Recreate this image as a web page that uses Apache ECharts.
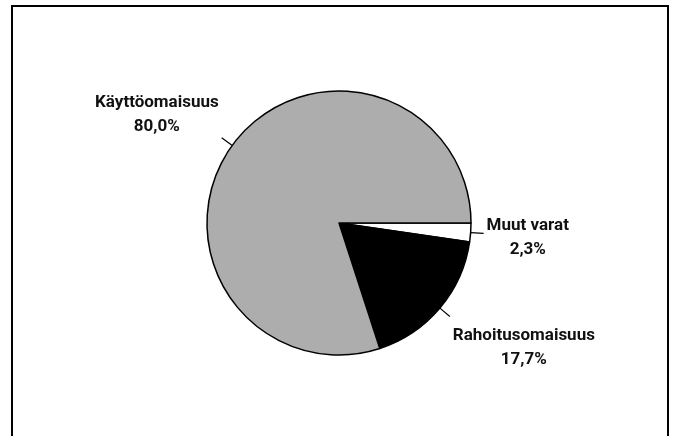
<!DOCTYPE html>
<html>
<head>
<meta charset="utf-8">
<script src="https://cdn.jsdelivr.net/npm/echarts@6/dist/echarts.min.js"></script>
<style>
  html, body { margin: 0; padding: 0; background: #fff; }
  #chart { width: 673px; height: 436px; }
</style>
</head>
<body>
<div id="chart"></div>
<script>
// osuudet, järjestys myötäpäivään klo 3:sta alkaen
const names = ['Muut varat', 'Rahoitusomaisuus', 'Käyttöomaisuus']
const shares = [2.3, 17.7, 80.0]
const colors = ['#ffffff', '#000000', '#adadad']

const chart = echarts.init(document.getElementById('chart'))

const option = {
  animation: false,
  graphic: [
    {
      // kehys (alareuna jää kuvan ulkopuolelle)
      type: 'rect',
      shape: { x: 12, y: 6, width: 656, height: 460 },
      style: { fill: 'none', stroke: '#000', lineWidth: 2 },
      silent: true
    }
  ],
  series: [
    {
      type: 'pie',
      center: [339, 223],
      radius: 132,
      startAngle: 0,
      clockwise: true,
      avoidLabelOverlap: false,
      data: names.map((n, i) => ({
        name: n,
        value: shares[i],
        itemStyle: { color: colors[i] }
      })),
      itemStyle: { borderColor: '#000', borderWidth: 1.5 },
      label: {
        show: true,
        position: 'outside',
        formatter: (p) => p.name + '\n' + p.value.toFixed(1).replace('.', ',') + '%',
        fontFamily: 'Roboto, sans-serif',
        fontWeight: 'bold',
        fontSize: 17,
        lineHeight: 24,
        color: '#111',
        align: 'center'
      },
      labelLine: {
        show: true,
        length: 13,
        length2: 0,
        lineStyle: { color: '#000', width: 1.2 }
      },
      labelLayout: (p) => {
        const pts = p.labelLinePoints
        const s = pts[0]
        const e = pts[1]
        const dx = e[0] - s[0]
        const dy = e[1] - s[1]
        const len = Math.sqrt(dx * dx + dy * dy)
        const w = p.labelRect.width
        const h = p.labelRect.height
        let x = dx < 0 ? e[0] - 3 - w / 2 : e[0] + 3 + w / 2
        let y = e[1] + 4
        if (dy / len < -0.3) y = e[1] + 1 - h / 2
        else if (dy / len > 0.3) y = e[1] + 7 + h / 2
        return {
          x: x,
          y: y,
          align: 'center',
          verticalAlign: 'middle',
          labelLinePoints: [s, e, e]
        }
      }
    }
  ]
}

chart.setOption(option)
</script>
</body>
</html>
